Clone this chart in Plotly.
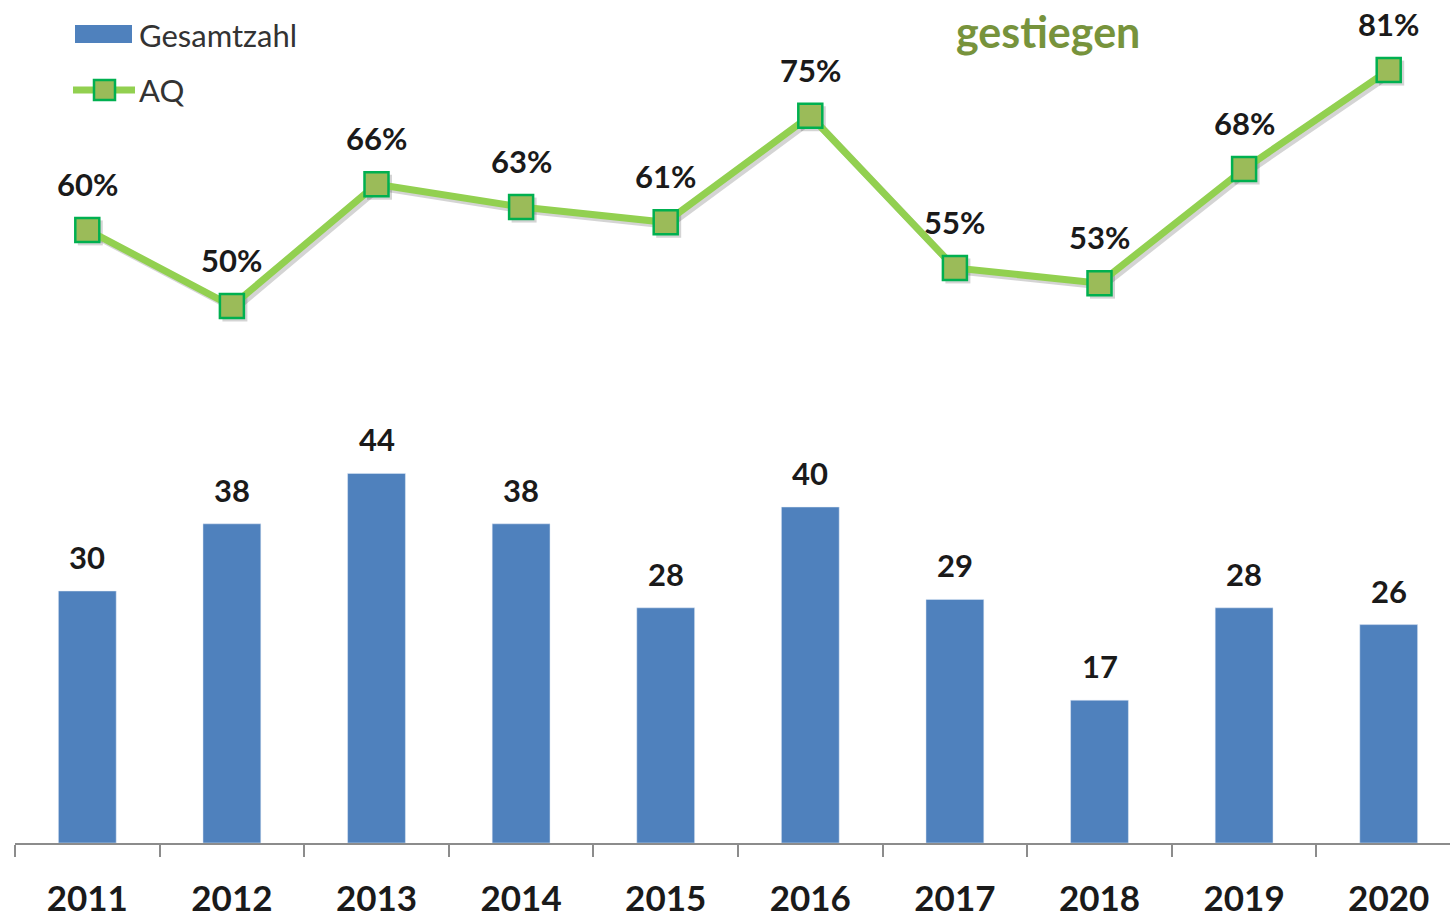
import plotly.graph_objects as go

years = ["2011", "2012", "2013", "2014", "2015", "2016", "2017", "2018", "2019", "2020"]
gesamtzahl = [30, 38, 44, 38, 28, 40, 29, 17, 28, 26]
aq = [60, 50, 66, 63, 61, 75, 55, 53, 68, 81]
aq_labels = ["60%", "50%", "66%", "63%", "61%", "75%", "55%", "53%", "68%", "81%"]

# page body margin is removed by the post script below
OFF = 0
W, H = 1450, 917
FONT = "Lato"

BAR_COLOR = "#4F81BD"
LINE_COLOR = "#92D050"
MARKER_FILL = "#9BBB59"
MARKER_EDGE = "#00B050"

# target geometry in window pixels
AXIS_Y = 843
LEFT_X = 15
XS = 144.6   # px per category
BS = 8.4     # px per bar unit
LS = 7.61    # px per percent
L50_Y = 306  # window y of 50 %

ML = LEFT_X - OFF
MT = 0
MB = H - (AXIS_Y - OFF)
MR = 0
PW = W - ML - MR
PH = H - MT - MB
top_win = OFF + MT  # window y of plot top

xr = [-0.5, -0.5 + PW / XS]
yr_bar = [0, PH / BS]
yr_line = [50 - (AXIS_Y - L50_Y) / LS, 50 + (L50_Y - top_win) / LS]

dx, dy = 3, 3
xr_sh = [xr[0] - dx / XS, xr[1] - dx / XS]
yr_sh = [yr_line[0] + dy / LS, yr_line[1] + dy / LS]

idx = list(range(len(years)))

fig = go.Figure()

fig.add_trace(go.Bar(
    x=years, y=gesamtzahl, name="Gesamtzahl", marker_color=BAR_COLOR,
    width=0.4, showlegend=False,
))

# soft shadow of the AQ line (drawn first, shifted a few pixels)
fig.add_trace(go.Scatter(
    x=years, y=aq, mode="lines+markers", xaxis="x2", yaxis="y2",
    line=dict(color="rgba(0,0,0,0.17)", width=7),
    marker=dict(symbol="square", size=25, color="rgba(0,0,0,0.17)", line=dict(width=0)),
    hoverinfo="skip", showlegend=False,
))

fig.add_trace(go.Scatter(
    x=years, y=aq, name="AQ", mode="lines+markers", xaxis="x3", yaxis="y3",
    line=dict(color=LINE_COLOR, width=7),
    marker=dict(symbol="square", size=24, color=MARKER_FILL, line=dict(color=MARKER_EDGE, width=2.5)),
    showlegend=False,
))

annotations = []
for i, v in zip(idx, gesamtzahl):
    annotations.append(dict(
        x=i, y=v, xref="x", yref="y", text=str(v), showarrow=False,
        yshift=34, font=dict(family=FONT, size=31, color="#1a1a1a", weight="bold"),
    ))
for i, v, lab in zip(idx, aq, aq_labels):
    annotations.append(dict(
        x=i, y=v, xref="x", yref="y3", text=lab, showarrow=False,
        yshift=46, font=dict(family=FONT, size=31, color="#1a1a1a", weight="bold"),
    ))

def px_x(p):
    return (p - OFF - ML) / PW

def px_y(p):
    return 1 - (p - OFF - MT) / PH

annotations.append(dict(
    x=px_x(137), y=px_y(35), xref="paper", yref="paper", xanchor="left", yanchor="middle",
    text="Gesamtzahl", showarrow=False, font=dict(family=FONT, size=31, color="#333333"),
))
annotations.append(dict(
    x=px_x(137), y=px_y(90), xref="paper", yref="paper", xanchor="left", yanchor="middle",
    text="AQ", showarrow=False, font=dict(family=FONT, size=31, color="#333333"),
))
annotations.append(dict(
    x=px_x(1048), y=px_y(32), xref="paper", yref="paper", xanchor="center", yanchor="middle",
    text="gestiegen", showarrow=False,
    font=dict(family=FONT, size=43, color="#77933C", weight="bold"),
))

shapes = [
    dict(type="rect", xref="paper", yref="paper",
         x0=px_x(75), x1=px_x(132), y0=px_y(43), y1=px_y(25),
         fillcolor=BAR_COLOR, line=dict(width=0)),
    dict(type="line", xref="paper", yref="paper",
         x0=px_x(73), x1=px_x(135), y0=px_y(90), y1=px_y(90),
         line=dict(color=LINE_COLOR, width=7)),
    dict(type="rect", xref="paper", yref="paper",
         x0=px_x(94), x1=px_x(115), y0=px_y(100), y1=px_y(80),
         fillcolor=MARKER_FILL, line=dict(color=MARKER_EDGE, width=2.5)),
]

fig.update_layout(
    width=W, height=H,
    margin=dict(l=ML, r=MR, t=MT, b=MB),
    plot_bgcolor="rgba(0,0,0,0)", paper_bgcolor="white",
    showlegend=False,
    xaxis=dict(
        type="category", range=xr, showgrid=False, zeroline=False,
        showline=True, linecolor="#8c8c8c", linewidth=2,
        ticks="outside", tickson="boundaries", ticklen=12, tickwidth=2, tickcolor="#8c8c8c",
        tickfont=dict(family=FONT, size=35, color="#1a1a1a", weight="bold"),
        ticklabelstandoff=24, automargin=False,
    ),
    xaxis2=dict(type="category", range=xr_sh, overlaying="x", visible=False),
    xaxis3=dict(type="category", range=xr, overlaying="x", visible=False),
    yaxis=dict(range=yr_bar, visible=False, showgrid=False, zeroline=False),
    yaxis2=dict(range=yr_sh, overlaying="y", visible=False, showgrid=False, zeroline=False),
    yaxis3=dict(range=yr_line, overlaying="y", visible=False, showgrid=False, zeroline=False),
    annotations=annotations,
    shapes=shapes,
)

fig.write_html("out.html", config={"displayModeBar": False},
               post_script="document.body.style.margin='0';")
